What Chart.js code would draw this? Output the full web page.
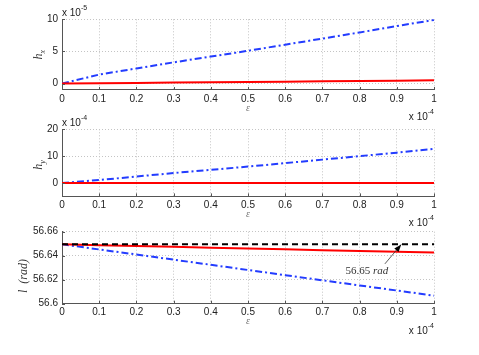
<!DOCTYPE html>
<html>
<head>
<meta charset="utf-8">
<script src="https://cdn.jsdelivr.net/npm/chart.js@4.4.1/dist/chart.umd.min.js"></script>
<style>
  html, body { margin: 0; padding: 0; background: #fff; }
  #wrap { position: relative; width: 479px; height: 355px; }
  canvas { position: absolute; left: 0; top: 0; }
</style>
</head>
<body>
<div id="wrap">
  <canvas id="c1" width="479" height="355"></canvas>
  <canvas id="c2" width="479" height="355"></canvas>
  <canvas id="c3" width="479" height="355"></canvas>
</div>
<script>
// epsilon, in units of 1e-4
const eps = [0, 0.1, 0.2, 0.3, 0.4, 0.5, 0.6, 0.7, 0.8, 0.9, 1];
const epsTicks = [0, 0.1, 0.2, 0.3, 0.4, 0.5, 0.6, 0.7, 0.8, 0.9, 1];
const epsTickLabels = ['0', '0.1', '0.2', '0.3', '0.4', '0.5', '0.6', '0.7', '0.8', '0.9', '1'];

// h_x, in units of 1e-5
const hxRed  = [0, 0.05, 0.1, 0.15, 0.2, 0.25, 0.3, 0.35, 0.4, 0.45, 0.5];
const hxBlue = [0, 1.4, 2.35, 3.3, 4.2, 5.1, 6.05, 7.0, 7.95, 8.95, 9.9];
const hxTicks = [0, 5, 10];
const hxTickLabels = ['0', '5', '10'];

// h_y, in units of 1e-4
const hyRed  = [0, 0, 0, 0, 0, 0, 0, 0, 0, 0, 0];
const hyBlue = [0, 1.1, 2.4, 3.7, 4.9, 6.1, 7.4, 8.7, 10.0, 11.3, 12.7];
const hyTicks = [0, 10, 20];
const hyTickLabels = ['0', '10', '20'];

// inclination l (rad)
const incRef  = [56.6495, 56.6495, 56.6495, 56.6495, 56.6495, 56.6495, 56.6495, 56.6495, 56.6495, 56.6495, 56.6495];
const incRed  = [56.6495, 56.6488, 56.6481, 56.6474, 56.6467, 56.646, 56.6453, 56.6446, 56.6439, 56.6432, 56.6426];
const incBlue = [56.6495, 56.6452, 56.641, 56.6367, 56.6324, 56.6281, 56.6238, 56.6195, 56.6152, 56.611, 56.6067];
const incTicks = [56.6, 56.62, 56.64, 56.66];
const incTickLabels = ['56.6', '56.62', '56.64', '56.66'];

const RED = 'rgb(255,0,0)';
const BLUE = 'rgb(35,60,255)';
const BLACK = '#000';
const DASHDOT = [7, 3, 2, 3];
const DASHED = [6, 4];

const SANS = '"Liberation Sans", Arial, Helvetica, sans-serif';
const SERIF = '"Liberation Serif", "Times New Roman", serif';

function drawPower(ctx, x, baseline, exp, alignRight) {
  ctx.font = '10px ' + SANS;
  const wb = ctx.measureText('x 10').width;
  ctx.font = '7px ' + SANS;
  const we = ctx.measureText(exp).width;
  const x0 = alignRight ? x - wb - we : x;
  ctx.textAlign = 'left';
  ctx.textBaseline = 'alphabetic';
  ctx.fillStyle = '#222';
  ctx.font = '10px ' + SANS;
  ctx.fillText('x 10', x0, baseline);
  ctx.font = '7px ' + SANS;
  ctx.fillText(exp, x0 + wb, baseline - 6);
}

function panel(id, cfg) {
  const extras = {
    id: 'extras',
    afterDraw(chart) {
      const { ctx, chartArea: a, scales: { x, y } } = chart;
      ctx.save();
      // inward tick marks (matlab style)
      ctx.strokeStyle = '#555';
      ctx.lineWidth = 1;
      ctx.setLineDash([]);
      ctx.beginPath();
      x.ticks.forEach(t => {
        const px = Math.round(x.getPixelForValue(t.value)) + 0.5;
        ctx.moveTo(px, a.bottom); ctx.lineTo(px, a.bottom - 3);
      });
      y.ticks.forEach(t => {
        const py = Math.round(y.getPixelForValue(t.value)) + 0.5;
        ctx.moveTo(a.left, py); ctx.lineTo(a.left + 3, py);
      });
      ctx.stroke();

      // y label
      ctx.save();
      ctx.translate(cfg.yLabelX || 39, cfg.yLabelY || (a.top + a.bottom) / 2);
      ctx.rotate(-Math.PI / 2);
      ctx.fillStyle = '#333';
      ctx.textBaseline = 'middle';
      ctx.font = 'italic 12px ' + SERIF;
      const wMain = ctx.measureText(cfg.yLabel).width;
      let wSub = 0;
      if (cfg.yLabelSub) {
        ctx.font = 'italic 8px ' + SERIF;
        wSub = ctx.measureText(cfg.yLabelSub).width;
      }
      const start = -(wMain + wSub) / 2;
      ctx.textAlign = 'left';
      ctx.font = 'italic 12px ' + SERIF;
      ctx.fillText(cfg.yLabel, start, 0);
      if (cfg.yLabelSub) {
        ctx.font = 'italic 8px ' + SERIF;
        ctx.fillText(cfg.yLabelSub, start + wMain, 4);
      }
      ctx.restore();

      // x label
      ctx.fillStyle = '#777';
      ctx.font = 'italic 10px ' + SERIF;
      ctx.textAlign = 'center';
      ctx.textBaseline = 'middle';
      ctx.fillText('\u03b5', (a.left + a.right) / 2, a.bottom + 18);

      // multipliers
      if (cfg.yExp) drawPower(ctx, a.left, a.top - 3, cfg.yExp, false);
      drawPower(ctx, a.right, a.bottom + 30, '-4', true);

      if (cfg.note) {
        const n = cfg.note;
        const tx = x.getPixelForValue(n.tip[0]), ty = y.getPixelForValue(n.tip[1]);
        const sx = x.getPixelForValue(n.tail[0]), sy = y.getPixelForValue(n.tail[1]);
        ctx.strokeStyle = '#333';
        ctx.lineWidth = 0.8;
        ctx.beginPath();
        ctx.moveTo(sx, sy); ctx.lineTo(tx, ty);
        ctx.stroke();
        const ang = Math.atan2(ty - sy, tx - sx);
        ctx.fillStyle = '#000';
        ctx.beginPath();
        ctx.moveTo(tx, ty);
        ctx.lineTo(tx - 8 * Math.cos(ang - 0.35), ty - 8 * Math.sin(ang - 0.35));
        ctx.lineTo(tx - 8 * Math.cos(ang + 0.35), ty - 8 * Math.sin(ang + 0.35));
        ctx.closePath();
        ctx.fill();
        const lx = x.getPixelForValue(n.at[0]), ly = y.getPixelForValue(n.at[1]);
        ctx.fillStyle = '#333';
        ctx.textAlign = 'left';
        ctx.textBaseline = 'middle';
        ctx.font = '11px ' + SERIF;
        ctx.fillText(n.num, lx, ly);
        const wn = ctx.measureText(n.num).width;
        ctx.font = 'italic 11px ' + SERIF;
        ctx.fillText(n.unit, lx + wn, ly);
      }
      ctx.restore();
    }
  };

  const tickFont = { family: SANS, size: 10 };
  return new Chart(document.getElementById(id), {
    type: 'line',
    data: {
      datasets: cfg.series.map(s => ({
        data: eps.map((e, i) => ({ x: e, y: s.values[i] })),
        borderColor: s.color,
        borderDash: s.dash || [],
        borderWidth: 2,
        pointRadius: 0,
        fill: false,
        tension: 0
      }))
    },
    options: {
      responsive: false,
      animation: false,
      events: [],
      layout: { padding: { left: 0, right: 45, top: cfg.top, bottom: 355 - 20 - cfg.bottom } },
      plugins: { legend: { display: false }, tooltip: { enabled: false } },
      scales: {
        x: {
          type: 'linear', min: 0, max: 1,
          afterBuildTicks: s => { s.ticks = epsTicks.map(v => ({ value: v })); },
          afterFit: s => { s.height = 20; },
          ticks: { autoSkip: false, maxRotation: 0, padding: 3, color: '#222', font: tickFont,
                   callback: (v, i) => epsTickLabels[i] },
          grid: { color: '#c4c4c4', lineWidth: 1, drawTicks: false },
          border: { color: '#555', width: 1, dash: [1, 2] }
        },
        y: {
          type: 'linear', min: cfg.yMin, max: cfg.yMax,
          afterBuildTicks: s => { s.ticks = cfg.yTicks.map(v => ({ value: v })); },
          afterFit: s => { s.width = 62; },
          ticks: { autoSkip: false, padding: 4, color: '#222', font: tickFont,
                   callback: (v, i) => cfg.yTickLabels[i] },
          grid: { color: '#c4c4c4', lineWidth: 1, drawTicks: false },
          border: { color: '#555', width: 1, dash: [1, 2] }
        }
      }
    },
    plugins: [extras]
  });
}

panel('c1', {
  top: 19.3, bottom: 90,
  yMin: -1, yMax: 10, yTicks: hxTicks, yTickLabels: hxTickLabels,
  yLabel: 'h', yLabelSub: 'x', yExp: '-5',
  series: [
    { values: hxRed, color: RED },
    { values: hxBlue, color: BLUE, dash: DASHDOT }
  ]
});

panel('c2', {
  top: 129.3, bottom: 196.4,
  yMin: -5, yMax: 20, yTicks: hyTicks, yTickLabels: hyTickLabels,
  yLabel: 'h', yLabelSub: 'y', yExp: '-4', yLabelY: 165,
  series: [
    { values: hyRed, color: RED },
    { values: hyBlue, color: BLUE, dash: DASHDOT }
  ]
});

panel('c3', {
  top: 231.7, bottom: 303.7,
  yMin: 56.6, yMax: 56.66, yTicks: incTicks, yTickLabels: incTickLabels,
  yLabel: 'l  (rad)', yLabelX: 24, yLabelY: 276,
  note: { num: '56.65 ', unit: 'rad', at: [0.762, 56.6275], tail: [0.868, 56.6332], tip: [0.912, 56.6494] },
  series: [
    { values: incRef, color: BLACK, dash: DASHED },
    { values: incRed, color: RED },
    { values: incBlue, color: BLUE, dash: DASHDOT }
  ]
});
</script>
</body>
</html>
